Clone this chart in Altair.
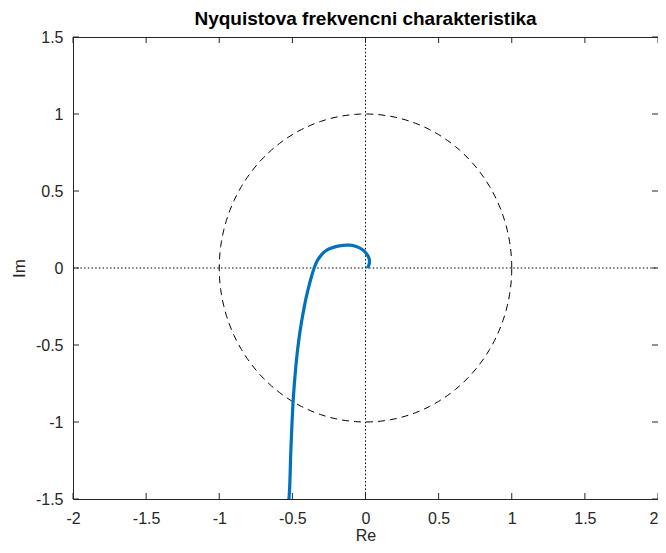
import altair as alt
import pandas as pd

# Nyquist curve points, from bottom to origin
re_vals = [-0.535, -0.521, -0.51, -0.494, -0.476, -0.463, -0.452, -0.44, -0.426, -0.41, -0.393,
           -0.372, -0.351, -0.328, -0.300, -0.271, -0.237, -0.203, -0.155, -0.112, -0.075,
           -0.044, -0.018, 0.003, 0.019, 0.027, 0.026, 0.02, 0.013]
im_vals = [-1.6, -1.469, -1.176, -0.852, -0.636, -0.52, -0.44, -0.365, -0.29, -0.21, -0.14,
           -0.065, 0.0, 0.05, 0.087, 0.112, 0.128, 0.139, 0.147, 0.148, 0.143,
           0.132, 0.117, 0.098, 0.075, 0.05, 0.03, 0.012, 0.0]

x_ticks = [-2, -1.5, -1, -0.5, 0, 0.5, 1, 1.5, 2]
y_ticks = [-1.5, -1, -0.5, 0, 0.5, 1, 1.5]
zero_lines = [0]

W, H = 585, 462
AX = "#262626"
FONT = "Liberation Sans"

curve_df = pd.DataFrame({"re": re_vals, "im": im_vals, "i": list(range(len(re_vals)))})
xt_df = pd.DataFrame({"v": x_ticks})
yt_df = pd.DataFrame({"v": y_ticks})
zero_df = pd.DataFrame({"v": zero_lines})

xscale = alt.Scale(domain=[-2, 2], nice=False, zero=False)
yscale = alt.Scale(domain=[-1.5, 1.5], nice=False, zero=False)

lab = "replace(datum.label, '\u2212', '-')"
xaxis = alt.Axis(values=x_ticks, format="~g", tickSize=0, domain=False, grid=False,
                 labelPadding=11, labelFontSize=16, labelColor=AX, labelFont=FONT,
                 labelExpr=lab,
                 labelAlign={"expr": "datum.value >= 2 ? 'right' : 'center'"},
                 title="Re", titleFontSize=16, titleFontWeight="normal", titleColor=AX,
                 titleFont=FONT, titleBaseline="alphabetic", titleY=41, titleX=W / 2)
yaxis = alt.Axis(values=y_ticks, format="~g", tickSize=0, domain=False, grid=False,
                 labelPadding=10, labelFontSize=16, labelColor=AX, labelFont=FONT,
                 labelExpr=lab,
                 title="Im", titleFontSize=17, titleFontWeight="normal", titleColor=AX,
                 titleFont=FONT, titleBaseline="alphabetic", titleX=-49, titleY=H / 2,
                 titleAngle=270)

circle = alt.Chart(alt.sequence(0, 361, 2, as_="t")).transform_calculate(
    cx="cos(datum.t * PI / 180)", cy="sin(datum.t * PI / 180)"
).mark_line(color="black", strokeWidth=1, strokeDash=[7, 5]).encode(
    x=alt.X("cx:Q", scale=xscale, axis=xaxis),
    y=alt.Y("cy:Q", scale=yscale, axis=yaxis),
    order="t:Q",
)

vline = alt.Chart(zero_df).mark_rule(color="black", strokeWidth=1, strokeDash=[1.5, 2.2]).encode(
    x=alt.X("v:Q", scale=xscale), y=alt.value(0), y2=alt.value(H))
hline = alt.Chart(zero_df).mark_rule(color="black", strokeWidth=1, strokeDash=[1.5, 2.2]).encode(
    y=alt.Y("v:Q", scale=yscale), x=alt.value(0), x2=alt.value(W))

curve = alt.Chart(curve_df).mark_line(color="#0072BD", strokeWidth=3.2, clip=True,
                                      interpolate="catmull-rom").encode(
    x=alt.X("re:Q", scale=xscale), y=alt.Y("im:Q", scale=yscale), order="i:Q")

tl = 6
tick_b = alt.Chart(xt_df).mark_rule(color=AX, strokeWidth=1).encode(
    x=alt.X("v:Q", scale=xscale), y=alt.value(H), y2=alt.value(H - tl))
tick_t = alt.Chart(xt_df).mark_rule(color=AX, strokeWidth=1).encode(
    x=alt.X("v:Q", scale=xscale), y=alt.value(0), y2=alt.value(tl))
tick_l = alt.Chart(yt_df).mark_rule(color=AX, strokeWidth=1).encode(
    y=alt.Y("v:Q", scale=yscale), x=alt.value(0), x2=alt.value(tl))
tick_r = alt.Chart(yt_df).mark_rule(color=AX, strokeWidth=1).encode(
    y=alt.Y("v:Q", scale=yscale), x=alt.value(W), x2=alt.value(W - tl))

chart = alt.layer(circle, vline, hline, curve, tick_b, tick_t, tick_l, tick_r).properties(
    width=W, height=H,
    autosize=alt.AutoSizeParams(type="none"),
    padding={"left": 65, "top": 29, "right": 0, "bottom": 43},
    title=alt.TitleParams("Nyquistova frekvencni charakteristika", fontSize=19,
                          fontWeight="bold", font=FONT, color="black", frame="group",
                          baseline="bottom", offset=6, dy=25, anchor="middle"),
).configure_view(stroke=AX, strokeWidth=1)

chart.save("out.html", embed_options={"renderer": "svg", "actions": False})
